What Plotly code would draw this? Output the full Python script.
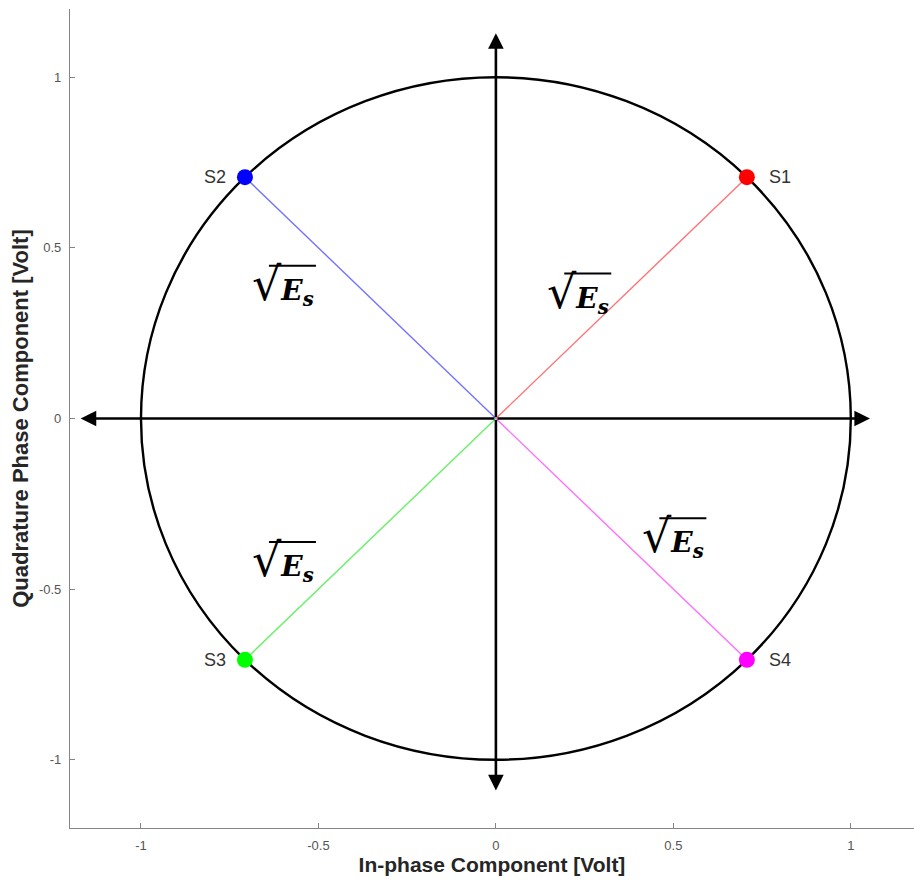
import plotly.graph_objects as go

# QPSK constellation points (in-phase / quadrature, volts)
symbol_names = ["S1", "S2", "S3", "S4"]
in_phase = [0.7071, -0.7071, -0.7071, 0.7071]
quadrature = [0.7071, 0.7071, -0.7071, -0.7071]
marker_colors = ["#ff0000", "#0000ff", "#00ff00", "#ff00ff"]
line_colors = ["#ff7373", "#7373ff", "#66f066", "#ff6eff"]
name_side = ["right", "left", "left", "right"]

# unit-energy circle radius
radius = 1.0

# sqrt(Es) label positions
es_x = [0.232, -0.6, -0.6, 0.5]
es_y = [0.372, 0.395, -0.415, -0.345]

# axis arrow tips (I+, I-, Q+, Q-)
arrow_x = [1.054, -1.17, 0.0, 0.0]
arrow_y = [0.0, 0.0, 1.129, -1.09]

x_ticks = [-1, -0.5, 0, 0.5, 1]
y_ticks = [-1, -0.5, 0, 0.5, 1]
tick_text = ["-1", "-0.5", "0", "0.5", "1"]

fig = go.Figure()

# radius vectors from the origin to each symbol
for i in range(len(symbol_names)):
    fig.add_trace(go.Scatter(
        x=[0, in_phase[i]], y=[0, quadrature[i]], mode="lines",
        line=dict(color=line_colors[i], width=1.4), hoverinfo="skip",
        showlegend=False))

# constellation symbols
fig.add_trace(go.Scatter(
    x=in_phase, y=quadrature, mode="markers",
    marker=dict(size=16, color=marker_colors, line=dict(width=0)),
    showlegend=False))

shapes = [dict(type="circle", xref="x", yref="y",
               x0=-radius, y0=-radius, x1=radius, y1=radius,
               line=dict(color="black", width=2.4), layer="below")]

annotations = []
# symbol names
for i, name in enumerate(symbol_names):
    right = name_side[i] == "right"
    annotations.append(dict(
        x=in_phase[i], y=quadrature[i], xref="x", yref="y", text=name,
        showarrow=False, xanchor="left" if right else "right",
        xshift=20 if right else -17, yshift=0,
        font=dict(family="Liberation Sans, Arial", size=18, color="#333333")))

# axis arrows
for ax_tip, ay_tip in zip(arrow_x, arrow_y):
    annotations.append(dict(
        x=ax_tip, y=ay_tip, ax=0, ay=0, xref="x", yref="y",
        axref="x", ayref="y", showarrow=True, arrowhead=2,
        arrowsize=1.2, arrowwidth=2.6, arrowcolor="black", text="",
        standoff=0, startstandoff=0))

# sqrt(Es) labels
for lx, ly in zip(es_x, es_y):
    annotations.append(dict(
        x=lx, y=ly, xref="x", yref="y", showarrow=False,
        xanchor="center", yanchor="middle",
        text="<span style='font-size:46px'>√</span><b><i>E</i></b><sub><b><i>s</i></b></sub>",
        font=dict(family="DejaVu Serif", size=28, color="black")))
    shapes.append(dict(
        type="line", xref="x", yref="y",
        xsizemode="pixel", ysizemode="pixel", xanchor=lx, yanchor=ly,
        x0=-14, x1=33, y0=18, y1=18,
        line=dict(color="black", width=2)))

axis_common = dict(
    showgrid=False, zeroline=False, showline=True, linecolor="#858585",
    linewidth=1.2, ticks="inside", ticklen=5, tickcolor="#858585",
    ticklabelstandoff=5,
    tickfont=dict(family="Liberation Sans, Arial", size=13, color="#555555"),
    mirror=False)

fig.update_layout(
    width=914, height=885,
    margin=dict(l=70, r=0, t=9, b=57),
    paper_bgcolor="white", plot_bgcolor="white",
    xaxis=dict(range=[-1.2, 1.178], tickvals=x_ticks, ticktext=tick_text,
               title=dict(text="<b>In-phase Component [Volt]</b>",
                          font=dict(family="Liberation Sans, Arial", size=21,
                                    color="#262626"), standoff=4),
               **axis_common),
    yaxis=dict(range=[-1.2, 1.2], tickvals=y_ticks, ticktext=tick_text,
               title=dict(text="<b>Quadrature Phase Component [Volt]</b>",
                          font=dict(family="Liberation Sans, Arial", size=22,
                                    color="#262626"), standoff=4),
               **axis_common),
    shapes=shapes, annotations=annotations)

fig.write_html("out.html")
